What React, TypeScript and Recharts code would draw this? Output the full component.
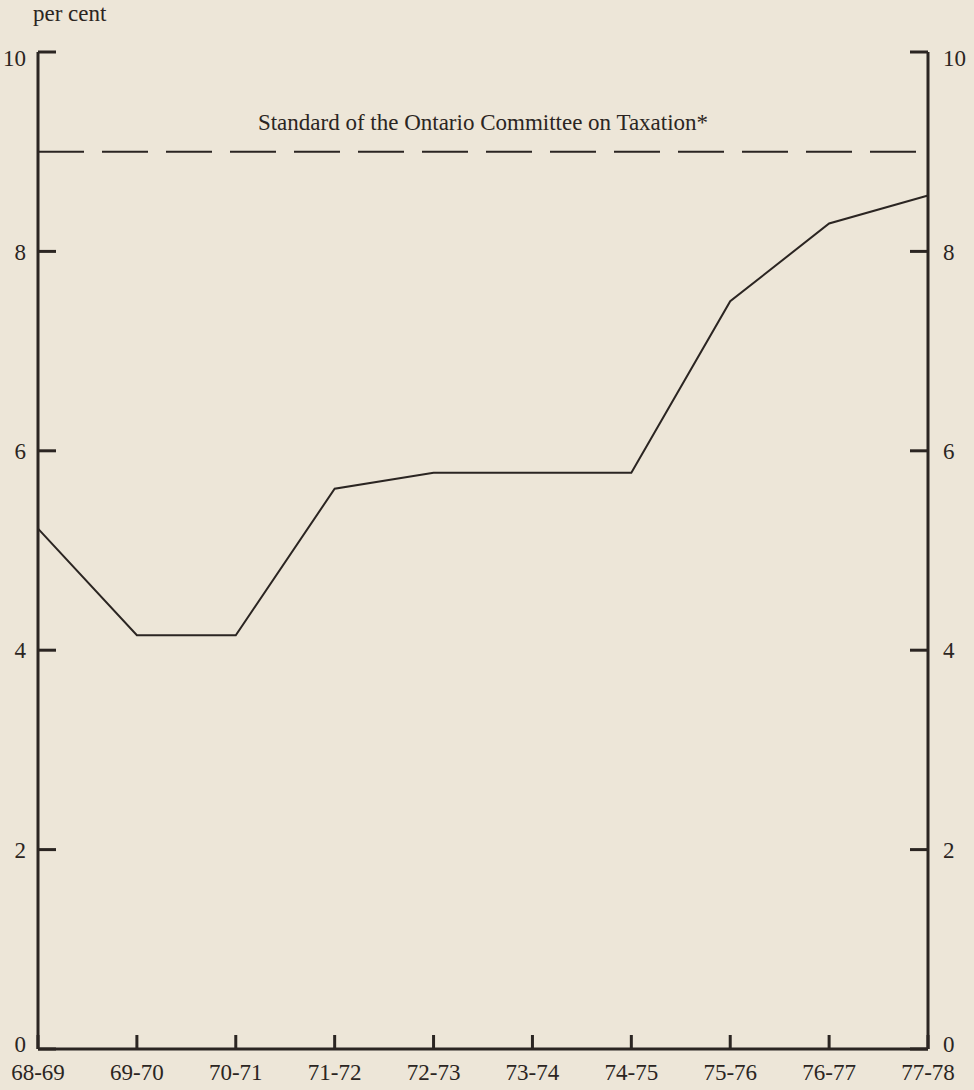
import React from 'react';
import { LineChart, Line, XAxis, YAxis, ReferenceLine, Label } from 'recharts';

// fiscal years on the x axis
const years = ['68-69', '69-70', '70-71', '71-72', '72-73', '73-74', '74-75', '75-76', '76-77', '77-78'];
// per cent values
const rates = [5.22, 4.15, 4.15, 5.62, 5.78, 5.78, 5.78, 7.5, 8.28, 8.56];
const yTicks = [0, 2, 4, 6, 8, 10];
const standardLevel = 9;
const standardText = 'Standard of the Ontario Committee on Taxation*';

const ink = '#2b2522';
const font = '"Liberation Serif", "DejaVu Serif", serif';
const size = 23;

const data = years.map((year, i) => ({ year, rate: rates[i] }));

// the end labels sit a little inside the axis, as in the print
const YTick = (props: any) => {
  const { x, y, payload, textAnchor } = props;
  let shift = 0;
  if (payload.value === 10) shift = 6;
  if (payload.value === 0) shift = -5;
  return (
    <text
      x={x}
      y={y + shift}
      dy="0.355em"
      textAnchor={textAnchor}
      fill={ink}
      fontSize={size}
      fontFamily={font}
    >
      {payload.value}
    </text>
  );
};

export default function App() {
  return (
    <div
      style={{
        position: 'absolute',
        left: 0,
        top: 0,
        width: 974,
        height: 1090,
        background: '#ede6d8',
        fontFamily: font,
        overflow: 'hidden',
      }}
    >
      <div style={{ position: 'absolute', left: 33, top: 1, fontSize: size, color: ink }}>per cent</div>
      <LineChart
        width={974}
        height={1090}
        data={data}
        margin={{ top: 52, right: 0, bottom: 11, left: 0 }}
      >
        <XAxis
          dataKey="year"
          height={30}
          axisLine={{ stroke: ink, strokeWidth: 3 }}
          tickLine={{ stroke: ink, strokeWidth: 3 }}
          tickSize={-14}
          tickMargin={29}
          tick={{ fill: ink, fontSize: size, fontFamily: font }}
          interval={0}
        />
        <YAxis
          yAxisId="left"
          orientation="left"
          width={38}
          domain={[0, 10]}
          ticks={yTicks}
          axisLine={{ stroke: ink, strokeWidth: 3 }}
          tickLine={{ stroke: ink, strokeWidth: 3 }}
          tickSize={-18}
          tickMargin={30}
          tick={<YTick />}
          interval={0}
        />
        <YAxis
          yAxisId="right"
          orientation="right"
          width={46}
          domain={[0, 10]}
          ticks={yTicks}
          axisLine={{ stroke: ink, strokeWidth: 3 }}
          tickLine={{ stroke: ink, strokeWidth: 3 }}
          tickSize={-18}
          tickMargin={33}
          tick={<YTick />}
          interval={0}
        />
        <ReferenceLine
          yAxisId="left"
          y={standardLevel}
          stroke={ink}
          strokeWidth={2}
          strokeDasharray="46 18"
        >
          <Label
            value={standardText}
            position="top"
            offset={22}
            fill={ink}
            fontSize={size}
            fontFamily={font}
          />
        </ReferenceLine>
        <Line
          yAxisId="left"
          type="linear"
          dataKey="rate"
          stroke={ink}
          strokeWidth={2}
          dot={false}
          activeDot={false}
          isAnimationActive={false}
        />
        {/* same series on the right scale so that axis gets its ticks */}
        <Line
          yAxisId="right"
          type="linear"
          dataKey="rate"
          stroke="none"
          dot={false}
          activeDot={false}
          legendType="none"
          isAnimationActive={false}
        />
      </LineChart>
    </div>
  );
}
